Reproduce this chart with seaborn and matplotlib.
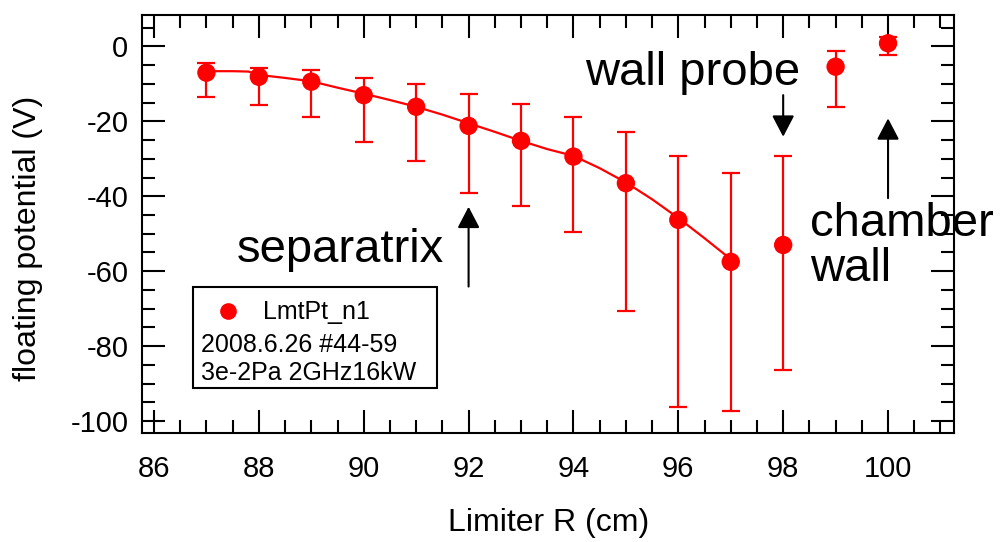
import matplotlib
matplotlib.use("Agg")
import matplotlib.pyplot as plt
from matplotlib.lines import Line2D
from matplotlib.patches import Rectangle
from matplotlib.ticker import MultipleLocator
import numpy as np
import pandas as pd
import seaborn as sns

# ---- data ----
radius = [87, 88, 89, 90, 91, 92, 93, 94, 95, 96, 97, 98, 99, 100]
vfloat = [-7.0, -8.1, -9.4, -13.0, -16.1, -21.2, -25.2, -29.4, -36.5, -46.3, -57.5, -53.0, -5.4, 0.85]
vfloat_top = [-4.5, -5.7, -6.3, -8.5, -10.0, -12.8, -15.4, -18.9, -22.8, -29.2, -33.7, -29.2, -1.2, 2.6]
vfloat_bot = [-13.4, -15.6, -18.9, -25.4, -30.5, -39.2, -42.5, -49.6, -70.5, -96.2, -97.4, -86.4, -16.1, -2.3]

fit_r = [87, 87.5, 87.8, 88, 88.5, 89, 89.5, 90, 90.5, 91, 91.5, 92, 92.5, 93, 93.5,
         94, 94.5, 95, 95.5, 96, 96.5, 97]
fit_v = [-6.6, -6.6, -6.7, -7.6, -8.4, -9.3, -11.0, -12.6, -14.3, -16.1, -18.2, -20.5,
         -22.8, -25.2, -27.4, -29.2, -32.5, -36.3, -40.8, -45.8, -51.2, -56.8]

xticks = [86, 88, 90, 92, 94, 96, 98, 100]
yticks = [-100, -80, -60, -40, -20, 0]

legend_label = "LmtPt_n1"
legend_lines = ["2008.6.26 #44-59", "3e-2Pa 2GHz16kW"]

# ---- style ----
sns.set_theme(style="ticks")
plt.rcParams["font.family"] = ["Liberation Sans", "DejaVu Sans"]
plt.rcParams["axes.unicode_minus"] = False
for key in ["text.color", "axes.labelcolor", "xtick.color", "ytick.color",
            "xtick.labelcolor", "ytick.labelcolor", "axes.edgecolor"]:
    plt.rcParams[key] = "black"
RED = "#ff0000"

fig = plt.figure(figsize=(10.01, 5.42), dpi=100)
ax = fig.add_axes([142.3 / 1001, 1 - 433 / 542, 811.7 / 1001, 418 / 542])

df = pd.DataFrame({"R": radius, "V": vfloat, "top": vfloat_top, "bot": vfloat_bot})
fit_df = pd.DataFrame({"R": fit_r, "V": fit_v})

sns.lineplot(data=fit_df, x="R", y="V", ax=ax, color=RED, lw=1.6, zorder=2)

yerr = np.vstack([df["V"] - df["bot"], df["top"] - df["V"]])
ax.errorbar(df["R"], df["V"], yerr=yerr, fmt="none", ecolor=RED, elinewidth=1.6,
            capsize=6.5, capthick=1.6, zorder=3)
sns.scatterplot(data=df, x="R", y="V", ax=ax, color=RED, s=175, edgecolor="none",
                linewidth=0, zorder=4, legend=False)

ax.set_xlim(85.777, 101.258)
ax.set_ylim(-103.2, 8.4)
ax.set_xticks(xticks)
ax.set_yticks(yticks)
ax.xaxis.set_minor_locator(MultipleLocator(0.5))
ax.yaxis.set_minor_locator(MultipleLocator(5))

for s in ax.spines.values():
    s.set_visible(True)
    s.set_linewidth(1.5)
    s.set_color("black")

ax.tick_params(which="both", direction="in", top=True, right=True, width=1.5,
               color="black", labelcolor="black")
ax.tick_params(which="major", length=16.5)
ax.tick_params(which="minor", length=9.5)
ax.tick_params(axis="x", which="major", labelsize=21, pad=16)
ax.tick_params(axis="y", which="major", labelsize=21, pad=10)

ax.set_xlabel("Limiter R (cm)", fontsize=23, labelpad=18, color="black")
ax.set_ylabel("floating potential (V)", fontsize=23, color="black")
ax.yaxis.set_label_coords(-0.1223, 0.4665)

# annotations
ann_fs = 34
ax.text(87.58, -57.5, "separatrix", fontsize=ann_fs, ha="left", va="baseline", color="black")
ax.text(94.22, -10.3, "wall probe", fontsize=ann_fs, ha="left", va="baseline", color="black")
ax.text(98.51, -50.6, "chamber", fontsize=ann_fs, ha="left", va="baseline", zorder=10,
        color="black")
ax.text(98.51, -62.5, "wall", fontsize=ann_fs, ha="left", va="baseline", zorder=10,
        color="black")

arrow_kw = dict(arrowstyle="-|>,head_length=0.65,head_width=0.34", mutation_scale=20,
                lw=1.5, color="black", shrinkA=0, shrinkB=0)
ax.annotate("", xy=(92.0, -42.8), xytext=(92.0, -64.1), arrowprops=arrow_kw)
ax.annotate("", xy=(98.0, -24.1), xytext=(98.0, -13.0), arrowprops=arrow_kw)
ax.annotate("", xy=(100.0, -19.2), xytext=(100.0, -40.5), arrowprops=arrow_kw)

# legend box
box = Rectangle((0.0628, 0.1077), 0.363 - 0.0628, 0.3486 - 0.1077, transform=ax.transAxes,
                fill=False, edgecolor="black", lw=1.5, zorder=5)
ax.add_patch(box)
proxy = Line2D([], [], marker="o", linestyle="none", color=RED, markersize=12,
               markeredgewidth=0)
leg = ax.legend(handles=[proxy], labels=[legend_label], loc="center left",
                bbox_to_anchor=(0.0906, 0.2887), frameon=False, fontsize=18,
                handlelength=1.0, handletextpad=0.9, borderpad=0, borderaxespad=0)
for t in leg.get_texts():
    t.set_color("black")
ax.text(0.072, 0.1945, legend_lines[0], transform=ax.transAxes, fontsize=18,
        ha="left", va="baseline", color="black")
ax.text(0.072, 0.1268, legend_lines[1], transform=ax.transAxes, fontsize=18,
        ha="left", va="baseline", color="black")

fig.savefig("out.png", dpi=100)
